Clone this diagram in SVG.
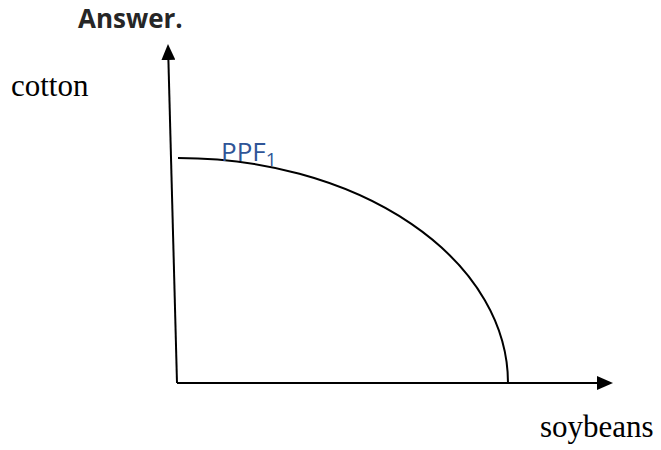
<svg xmlns="http://www.w3.org/2000/svg" width="661" height="450" viewBox="0 0 661 450">
<style>
.ax{stroke:#000;stroke-width:2;fill:none}
.serif{font-family:"Liberation Serif","Times New Roman",serif;fill:#000}
</style>
<defs>
<marker id="ah" viewBox="0 0 16 14" refX="0" refY="7" markerWidth="16" markerHeight="14" markerUnits="userSpaceOnUse" orient="auto">
<path d="M0,0 L16,7 L0,14 Z" fill="#000"/>
</marker>
</defs>
<rect width="661" height="450" fill="#fff"/>
<text x="78" y="28" font-family="'Open Sans','Noto Sans',sans-serif" font-weight="bold" font-size="26" fill="#262626">Answer.</text>
<g id="connectors">
<line class="ax" x1="177" y1="383" x2="168.4" y2="60" marker-end="url(#ah)"/>
<line class="ax" x1="177" y1="383" x2="597" y2="383" marker-end="url(#ah)"/>
</g>
<g id="ppf1">
<path class="ax" d="M178,158 A330,225 0 0 1 508,383"/>
<text x="221" y="161" font-family="'Open Sans','Noto Sans',sans-serif" font-size="26" fill="#2F5597">PPF<tspan font-size="19" dy="5">1</tspan></text>
</g>
<g id="cotton"><text class="serif" x="11" y="96" font-size="31">cotton</text></g>
<g id="soybeans"><text class="serif" x="540" y="437" font-size="31">soybeans</text></g>
</svg>
